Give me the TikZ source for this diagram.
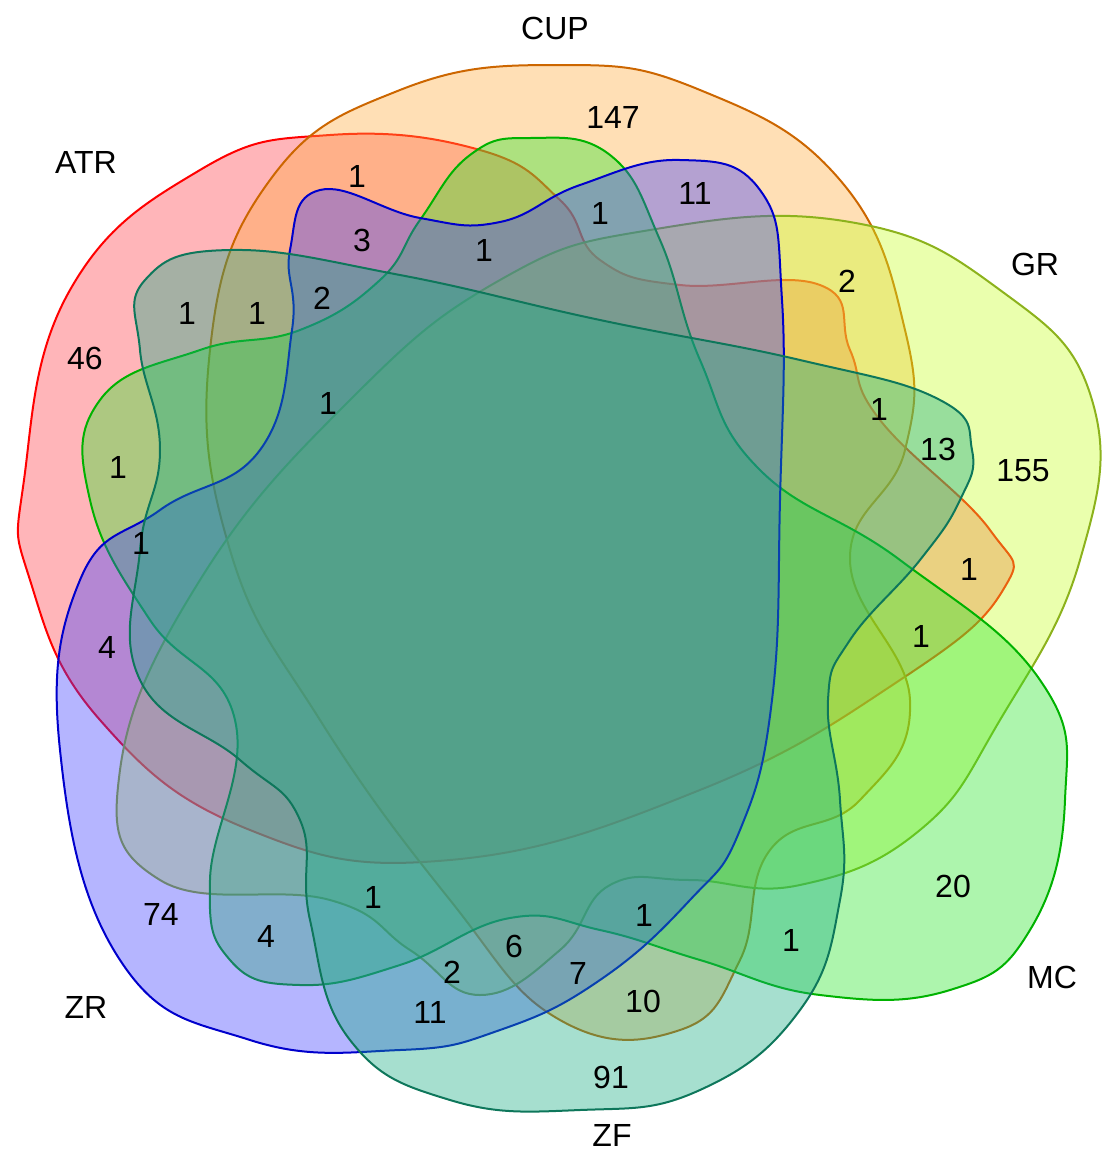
\documentclass[tikz,border=0pt]{standalone}
\usepackage{fontspec}
\setmainfont{Liberation Sans}
\begin{document}
\begin{tikzpicture}[x=1pt,y=-1pt,
  set/.style={line width=2pt,fill opacity=0.38,tension=0.75},
  lab/.style={font=\fontsize{32}{38}\selectfont,inner sep=0pt},
  num/.style={font=\fontsize{32}{38}\selectfont,inner sep=0pt}]
\useasboundingbox (0,0) rectangle (1112,1160);
\definecolor{cATR}{RGB}{255,60,70}
\definecolor{cCUP}{RGB}{255,170,60}
\definecolor{cGR}{RGB}{200,255,40}
\definecolor{cMC}{RGB}{40,230,40}
\definecolor{cZR}{RGB}{60,60,255}
\definecolor{cZF}{RGB}{20,170,130}
% ATR
\draw[set,draw=red,fill=cATR] plot[smooth cycle] coordinates{(24,480) (70,290) (200,170) (330,135) (480,150) (560,200) (600,260) (680,285) (820,285) (850,350) (880,420) (990,530) (1003,590) (900,680) (700,790) (450,860) (250,830) (100,720) (30,580)};
% CUP
\draw[set,draw=orange!80!black,fill=cCUP] plot[smooth cycle] coordinates{(270,180) (400,90) (560,65) (700,90) (840,180) (905,330) (905,450) (850,560) (910,700) (860,800) (770,850) (740,960) (680,1030) (560,1020) (450,900) (320,720) (230,550) (210,350)};
% GR
\draw[set,draw=cGR!70!black,fill=cGR] plot[smooth cycle] coordinates{(120,770) (200,580) (350,400) (500,280) (650,230) (850,222) (1000,290) (1092,400) (1080,560) (1000,720) (920,830) (800,885) (690,880) (610,885) (560,950) (480,995) (410,950) (330,900) (160,880)};
% MC
\draw[set,draw=green!70!black,fill=cMC] plot[smooth cycle] coordinates{(470,155) (530,138) (610,155) (660,240) (700,360) (760,470) (900,560) (1040,680) (1065,800) (1030,930) (950,990) (820,995) (700,960) (600,930) (510,918) (400,965) (300,985) (230,960) (210,880) (235,720) (150,620) (90,500) (100,400) (200,350) (300,330) (380,280) (420,220)};
% ZR
\draw[set,draw=blue!80!black,fill=cZR] plot[smooth cycle] coordinates{(320,190) (420,218) (500,222) (580,185) (680,160) (760,190) (782,300) (780,500) (772,700) (740,830) (690,900) (600,980) (500,1030) (400,1050) (250,1040) (120,960) (60,750) (80,580) (160,510) (260,450) (292,330) (290,250)};
% ZF
\draw[set,draw=cZF!70!black,fill=cZF] plot[smooth cycle] coordinates{(145,280) (230,250) (400,275) (600,320) (800,360) (940,400) (972,450) (960,500) (920,560) (850,640) (828,700) (840,800) (840,900) (800,1010) (700,1090) (580,1110) (450,1100) (350,1040) (310,920) (300,820) (240,760) (140,680) (140,550) (160,450) (140,350)};
% set labels
\node[lab] (lATR) at (86,162) {ATR};
\node[lab] (lCUP) at (555,28) {CUP};
\node[lab] (lGR) at (1035,264) {GR};
\node[lab] (lMC) at (1052,977) {MC};
\node[lab] (lZF) at (612,1135) {ZF};
\node[lab] (lZR) at (86,1007) {ZR};
% counts
\foreach \x/\y/\t [count=\i] in {613/117/147, 357/176/1, 695/193/11, 600/213/1, 362/240/3, 484/250/1, 847/281/2, 187/313/1, 257/313/1, 322/298/2, 85/358/46, 328/403/1, 879/409/1, 938/449/13, 1023/471/155, 118/467/1, 141/543/1, 969/569/1, 921/636/1, 107/647/4, 953/886/20, 161/914/74, 373/897/1, 644/915/1, 266/936/4, 514/946/6, 791/940/1, 452/972/2, 578/973/7, 643/1001/10, 430/1012/11, 611/1077/91}
  \node[num] (n\i) at (\x,\y) {\t};
\end{tikzpicture}
\end{document}
